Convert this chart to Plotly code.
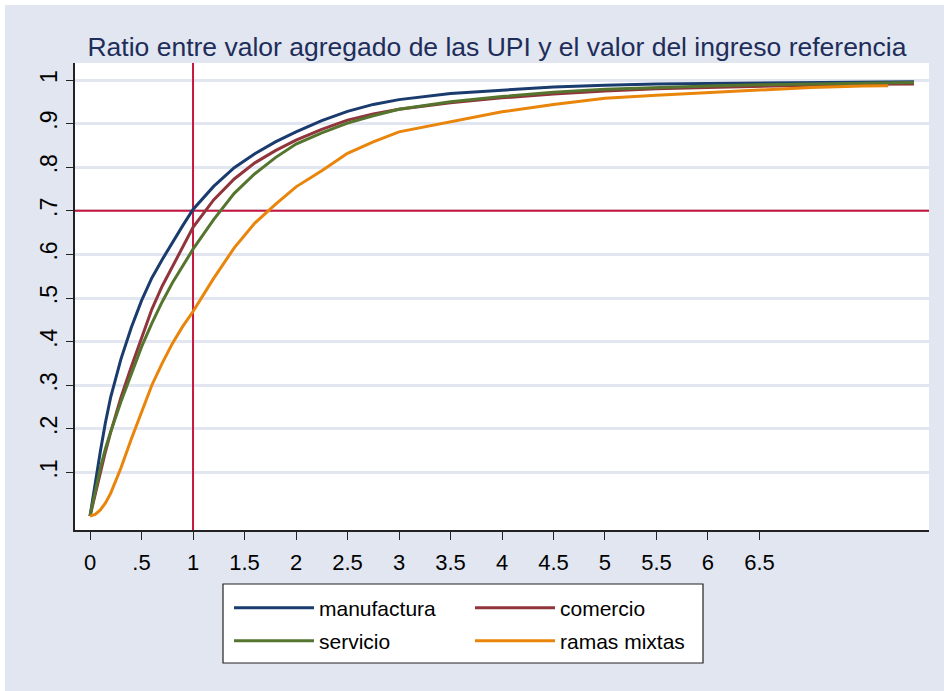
import plotly.graph_objects as go

# ---- data ----
x_grid = [0, 0.05, 0.1, 0.15, 0.2, 0.3, 0.4, 0.5, 0.6, 0.7, 0.8, 0.9, 1.0, 1.2, 1.4, 1.6,
          1.8, 2.0, 2.25, 2.5, 2.75, 3.0, 3.5, 4.0, 4.5, 5.0, 5.5, 6.0, 6.5, 7.0, 7.5, 8.0]

manufactura = [0, 0.078, 0.148, 0.215, 0.272, 0.36, 0.432, 0.494, 0.546, 0.588, 0.628, 0.666,
               0.703, 0.756, 0.799, 0.831, 0.858, 0.881, 0.907, 0.928, 0.944, 0.955, 0.969,
               0.977, 0.984, 0.988, 0.991, 0.992, 0.993, 0.994, 0.995, 0.996]

comercio = [0, 0.05, 0.10, 0.148, 0.192, 0.272, 0.342, 0.41, 0.474, 0.527, 0.573, 0.618,
            0.662, 0.725, 0.773, 0.81, 0.838, 0.862, 0.887, 0.908, 0.922, 0.933, 0.948,
            0.959, 0.968, 0.975, 0.980, 0.983, 0.986, 0.988, 0.990, 0.991]

servicio = [0, 0.055, 0.11, 0.155, 0.193, 0.262, 0.327, 0.388, 0.442, 0.491, 0.535, 0.573,
            0.612, 0.68, 0.74, 0.785, 0.822, 0.853, 0.879, 0.901, 0.918, 0.933, 0.950,
            0.962, 0.972, 0.979, 0.983, 0.986, 0.989, 0.991, 0.993, 0.994]

x_mixtas = [0, 0.05, 0.1, 0.15, 0.2, 0.3, 0.4, 0.5, 0.6, 0.7, 0.8, 0.9, 1.0, 1.2, 1.4, 1.6,
            1.8, 2.0, 2.25, 2.5, 2.75, 3.0, 3.5, 4.0, 4.5, 5.0, 5.5, 6.0, 6.5, 7.0, 7.5, 7.75]
ramas_mixtas = [0, 0.004, 0.014, 0.03, 0.052, 0.11, 0.176, 0.24, 0.30, 0.35, 0.396, 0.435,
                0.469, 0.545, 0.615, 0.672, 0.715, 0.755, 0.792, 0.832, 0.858, 0.881, 0.904,
                0.927, 0.944, 0.958, 0.965, 0.971, 0.978, 0.983, 0.986, 0.987]

x_tickvals = [0, 0.5, 1, 1.5, 2, 2.5, 3, 3.5, 4, 4.5, 5, 5.5, 6, 6.5]
x_ticktext = ["0", ".5", "1", "1.5", "2", "2.5", "3", "3.5", "4", "4.5", "5", "5.5", "6", "6.5"]
y_tickvals = [0.1, 0.2, 0.3, 0.4, 0.5, 0.6, 0.7, 0.8, 0.9, 1.0]
y_ticktext = [".1", ".2", ".3", ".4", ".5", ".6", ".7", ".8", ".9", "1"]

x_range = [-0.146, 8.146]
y_range = [-0.032, 1.039]

ref_x = 1
ref_y = 0.7

title_text = "Ratio entre valor agregado de las UPI y el valor del ingreso referencia"

# ---- styling ----
BG = "#E1E6F0"
RED = "#C8163F"
FONT = "Liberation Sans, Arial, sans-serif"
OFF = 5  # white page border of the reference (top/left)
W, H = 944 - OFF, 691 - OFF
PL, PT, PR, PB = 75 - OFF, 63 - OFF, 944 - 929, 691 - 530
PW, PH = 929 - 75, 530 - 63

series = [
    ("manufactura", x_grid, manufactura, "#1A3B6E", "legend"),
    ("comercio", x_grid, comercio, "#90353B", "legend"),
    ("servicio", x_grid, servicio, "#55752F", "legend2"),
    ("ramas mixtas", x_mixtas, ramas_mixtas, "#E8850A", "legend2"),
]

fig = go.Figure()
# reference lines (under the curves)
fig.add_trace(go.Scatter(x=[ref_x, ref_x], y=y_range, mode="lines",
                         line=dict(color=RED, width=2), showlegend=False, hoverinfo="skip"))
fig.add_trace(go.Scatter(x=x_range, y=[ref_y, ref_y], mode="lines",
                         line=dict(color=RED, width=2), showlegend=False, hoverinfo="skip"))
for name, xs, ys, color, lg in series:
    fig.add_trace(go.Scatter(x=xs, y=ys, mode="lines", name=name,
                             line=dict(color=color, width=3), legend=lg))

# legend frame
fig.add_shape(type="rect", xref="paper", yref="paper",
              x0=(223 - 75) / PW, x1=(703 - 75) / PW,
              y0=(530 - 663) / PH, y1=(530 - 584) / PH,
              fillcolor="white", line=dict(color="#222222", width=1.2), layer="below")

legend_common = dict(orientation="h", xanchor="left", yanchor="middle",
                     bgcolor="rgba(0,0,0,0)", entrywidth=146, itemwidth=80,
                     font=dict(family=FONT, size=21, color="black"))

fig.update_layout(
    width=W, height=H,
    paper_bgcolor=BG, plot_bgcolor="white",
    margin=dict(l=PL, r=PR, t=PT, b=PB, autoexpand=False),
    title=dict(text=title_text, x=(497 - OFF) / W, xref="container", xanchor="center",
               y=1 - (47 - OFF) / H, yref="container", yanchor="middle",
               font=dict(family=FONT, size=26.5, color="#1E2D5A")),
    xaxis=dict(range=x_range, tickvals=x_tickvals, ticktext=x_ticktext, automargin=False,
               showgrid=False, zeroline=False, showline=True, linecolor="#222222", linewidth=1.5,
               ticks="outside", ticklen=8, tickcolor="#222222", tickwidth=1.2,
               ticklabelstandoff=4,
               tickfont=dict(family=FONT, size=22, color="black")),
    yaxis=dict(range=y_range, tickvals=y_tickvals, ticktext=y_ticktext, automargin=False,
               showgrid=True, gridcolor=BG, gridwidth=2.5, zeroline=False,
               showline=True, linecolor="#222222", linewidth=1.5,
               ticks="outside", ticklen=7, tickcolor="#222222", tickwidth=1.2, tickangle=-90,
               tickfont=dict(family=FONT, size=23, color="black")),
    legend=dict(x=(229 - 75) / PW, y=(530 - 608) / PH, **legend_common),
    legend2=dict(x=(229 - 75) / PW, y=(530 - 641) / PH, **legend_common),
    showlegend=True,
)

fig.write_html("out.html",
               post_script="document.body.style.margin='%dpx 0 0 %dpx';"
                           "document.body.style.background='white';" % (OFF, OFF))
